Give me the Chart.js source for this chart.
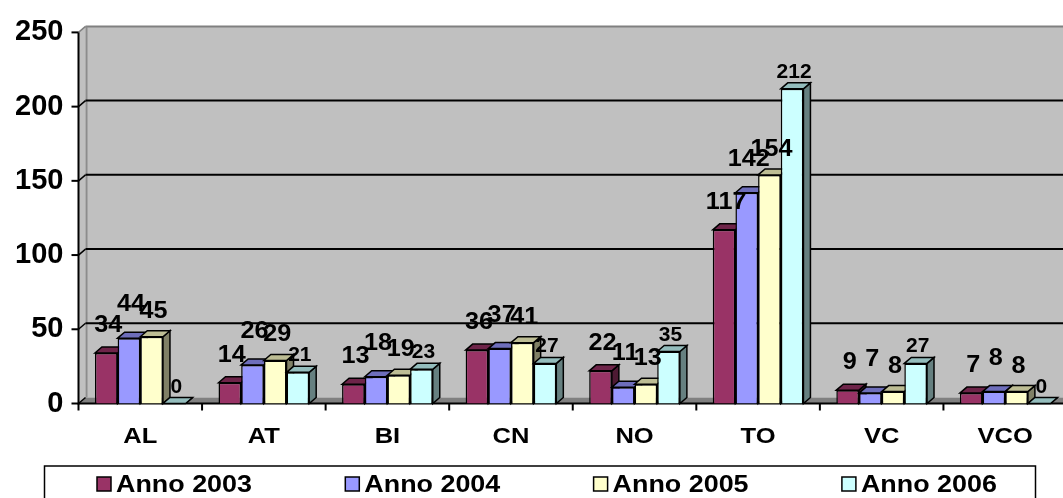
<!DOCTYPE html>
<html>
<head>
<meta charset="utf-8">
<script src="https://cdn.jsdelivr.net/npm/chart.js@4/dist/chart.umd.min.js"></script>
<style>
  html, body { margin: 0; padding: 0; background: #fff; overflow: hidden; }
  canvas { display: block; }
</style>
</head>
<body>
<canvas id="chart" width="1080" height="498" style="width:1080px;height:498px"></canvas>
<script>
// Province codes and yearly counts
const provinces = ['AL', 'AT', 'BI', 'CN', 'NO', 'TO', 'VC', 'VCO'];
const seriesNames = ['Anno 2003', 'Anno 2004', 'Anno 2005', 'Anno 2006'];
const anno2003 = [34, 14, 13, 36, 22, 117, 9, 7];
const anno2004 = [44, 26, 18, 37, 11, 142, 7, 8];
const anno2005 = [45, 29, 19, 41, 13, 154, 8, 8];
const anno2006 = [0, 21, 23, 27, 35, 212, 27, 0];
const yTicks = [0, 50, 100, 150, 200, 250];

// Styling
const FONT = "'Liberation Sans', Arial, sans-serif";
const faceColors = ['#993366', '#9999FF', '#FFFFCC', '#CCFFFF'];
const topColors  = ['#6E2449', '#6E6EBB', '#BDBD94', '#94BDBD'];
const sideColors = ['#4D1A33', '#4D4D80', '#808066', '#668080'];
const labelGap   = [21, 27, 19, 11];
const labelSize  = [24, 24, 24, 20];
const DX = 7, DY = -6;   // depth offset of the oblique projection
const WIDE = 1.12;       // horizontal widening of the bold captions

Chart.defaults.font.family = FONT;

function poly(ctx, pts, fill, stroke, lw) {
  ctx.beginPath();
  ctx.moveTo(pts[0][0], pts[0][1]);
  for (let i = 1; i < pts.length; i++) ctx.lineTo(pts[i][0], pts[i][1]);
  ctx.closePath();
  if (fill) { ctx.fillStyle = fill; ctx.fill(); }
  if (stroke) { ctx.strokeStyle = stroke; ctx.lineWidth = lw || 1; ctx.stroke(); }
}
function seg(ctx, x1, y1, x2, y2, color, lw) {
  ctx.beginPath();
  ctx.moveTo(x1, y1);
  ctx.lineTo(x2, y2);
  ctx.strokeStyle = color;
  ctx.lineWidth = lw;
  ctx.stroke();
}
function wideText(ctx, text, x, y, sx) {
  ctx.save();
  ctx.translate(x, y);
  ctx.scale(sx, 1);
  ctx.fillText(text, 0, 0);
  ctx.restore();
}

// Walls, floor, gridlines and axes of the 3D box
const box3d = {
  id: 'box3d',
  beforeDatasetsDraw(chart) {
    const { ctx, chartArea: { left, right, top, bottom }, scales: { x, y } } = chart;
    const W = chart.width;
    ctx.save();
    // back wall
    ctx.fillStyle = '#C0C0C0';
    ctx.fillRect(left + DX, top + DY, W - left - DX, bottom - top);
    // side wall
    poly(ctx, [[left, top], [left + DX, top + DY], [left + DX, bottom + DY], [left, bottom]], '#C0C0C0');
    // floor
    poly(ctx, [[left, bottom], [left + DX, bottom + DY], [W, bottom + DY], [W, bottom]], '#808080');
    // wall edges
    seg(ctx, left + DX, top + DY, W, top + DY, '#808080', 2);
    seg(ctx, left + DX + 1, top + DY, left + DX + 1, bottom + DY, '#8C8C8C', 2);
    // gridlines on the back wall plus their ticks on the front axis
    const maxV = yTicks[yTicks.length - 1];
    yTicks.forEach(v => {
      const py = y.getPixelForValue(v);
      if (v > 0 && v < maxV) seg(ctx, left + DX, py + DY, W, py + DY, '#000', 2);
      seg(ctx, left, py, left + DX, py + DY, v === maxV ? '#808080' : '#000', 1.5);
      seg(ctx, left - 7, py, left, py, '#000', 2);
    });
    // front axes
    seg(ctx, left, top, left, bottom + 1, '#000', 2);
    seg(ctx, left, bottom, W, bottom, '#000', 2);
    // category boundary ticks and names
    const half = (x.getPixelForValue(1) - x.getPixelForValue(0)) / 2;
    for (let i = 0; i <= provinces.length; i++) {
      const px = x.getPixelForValue(0) - half + i * 2 * half;
      seg(ctx, px, bottom, px, bottom + 7, '#000', 2);
    }
    ctx.fillStyle = '#000';
    ctx.font = `bold 22px ${FONT}`;
    ctx.textAlign = 'center';
    ctx.textBaseline = 'alphabetic';
    chart.data.labels.forEach((lab, i) => {
      wideText(ctx, lab, x.getPixelForValue(i), bottom + 39, 1.16);
    });
    ctx.restore();
  },
  // bars are painted below, category by category, so nearer faces cover farther ones
  beforeDatasetDraw() { return false; },
  afterDatasetsDraw(chart) {
    const { ctx } = chart;
    const n = chart.data.datasets.length;
    ctx.save();
    for (let i = 0; i < provinces.length; i++) {
      for (let d = 0; d < n; d++) {
        const el = chart.getDatasetMeta(d).data[i];
        const { x, y, base, width } = el.getProps(['x', 'y', 'base', 'width'], true);
        const L = x - width / 2, R = x + width / 2;
        poly(ctx, [[R, y], [R + DX, y + DY], [R + DX, base + DY], [R, base]], sideColors[d], '#000', 1.5);
        poly(ctx, [[L, y], [L + DX, y + DY], [R + DX, y + DY], [R, y]], topColors[d], '#000', 1.5);
        el.draw(ctx, chart.chartArea);
      }
    }
    // value labels
    ctx.fillStyle = '#000';
    ctx.textAlign = 'center';
    ctx.textBaseline = 'alphabetic';
    for (let d = 0; d < n; d++) {
      const meta = chart.getDatasetMeta(d);
      ctx.font = `bold ${labelSize[d]}px ${FONT}`;
      meta.data.forEach((el, i) => {
        const { x, y } = el.getProps(['x', 'y'], true);
        wideText(ctx, String(chart.data.datasets[d].data[i]), x + 2, y - labelGap[d], 1.05);
      });
    }
    ctx.restore();
  }
};

// Boxed legend row under the chart
const boxLegend = {
  id: 'boxLegend',
  afterDraw(chart) {
    const { ctx } = chart;
    ctx.save();
    ctx.strokeStyle = '#000';
    ctx.lineWidth = 1.5;
    ctx.strokeRect(44.5, 466, 991, 60);
    ctx.font = `bold 24px ${FONT}`;
    ctx.textBaseline = 'alphabetic';
    ctx.textAlign = 'left';
    chart.data.datasets.forEach((ds, d) => {
      const x0 = 97 + d * 248.3;
      ctx.fillStyle = ds.backgroundColor;
      ctx.fillRect(x0, 477, 14, 14);
      ctx.lineWidth = 1.5;
      ctx.strokeRect(x0, 477, 14, 14);
      ctx.fillStyle = '#000';
      wideText(ctx, ds.label, x0 + 19, 492, WIDE);
    });
    ctx.restore();
  }
};

const seriesData = [anno2003, anno2004, anno2005, anno2006];

new Chart(document.getElementById('chart'), {
  type: 'bar',
  data: {
    labels: provinces,
    datasets: seriesData.map((vals, d) => ({
      label: seriesNames[d],
      data: vals,
      backgroundColor: faceColors[d],
      borderColor: '#000',
      borderWidth: 1.5,
      borderSkipped: 'start'
    }))
  },
  options: {
    responsive: false,
    animation: false,
    events: [],
    layout: { padding: { top: 26.5, right: 13, left: 0, bottom: 0 } },
    datasets: { bar: { categoryPercentage: 0.734, barPercentage: 1 } },
    plugins: { legend: { display: false }, tooltip: { enabled: false } },
    scales: {
      x: {
        grid: { display: false, drawTicks: false },
        border: { display: false },
        ticks: { display: false },
        afterFit(s) { s.height = 94.5; }
      },
      y: {
        min: 0, max: 250,
        grid: { display: false, drawTicks: false },
        border: { display: false },
        ticks: { color: '#000', padding: 15, font: { size: 29, weight: 'bold' } },
        afterBuildTicks(s) { s.ticks = yTicks.map(v => ({ value: v })); },
        afterFit(s) { s.width = 78.5; }
      }
    }
  },
  plugins: [box3d, boxLegend]
});
</script>
</body>
</html>
